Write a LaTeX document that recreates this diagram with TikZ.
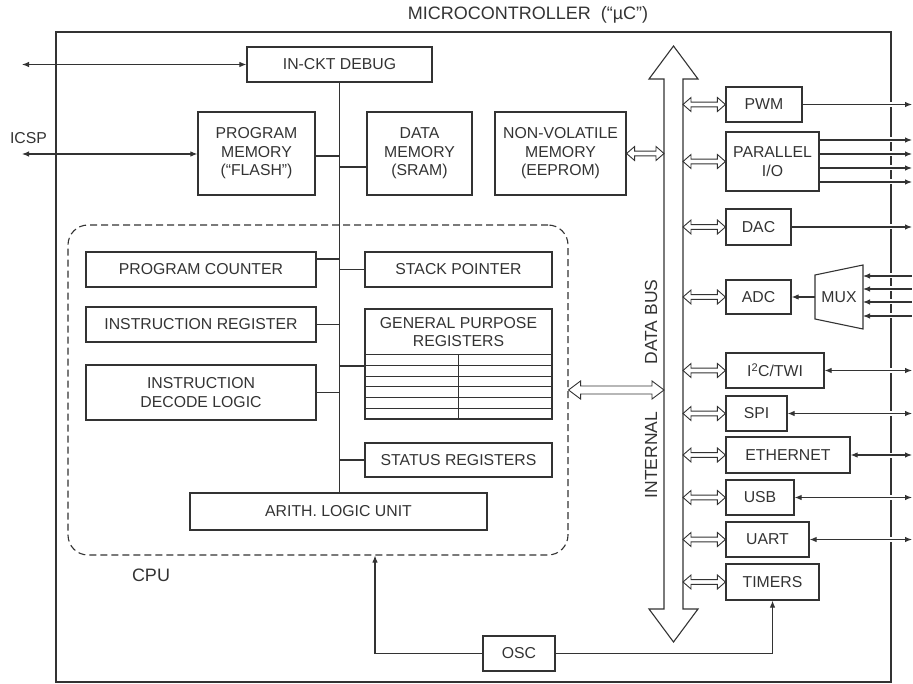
\documentclass[tikz,border=0pt]{standalone}
\usepackage{fontspec}
\setmainfont{Liberation Sans}
\usetikzlibrary{arrows.meta,calc}
\pgfdeclarelayer{bg}
\pgfsetlayers{bg,main}
\definecolor{ink}{gray}{0.2}
\begin{document}
\begin{tikzpicture}[x=1pt,y=-1pt,
  font=\fontsize{15.8}{18.5}\selectfont,
  >={Latex[length=7pt,width=5.5pt]},
  every node/.style={text=ink},
  box/.style={draw=ink, line width=1.2pt, inner sep=0pt, align=center},
  conn/.style={draw=ink, line width=1.1pt},
  extline/.style={conn, preaction={draw=white, line width=5pt, -}},
  hol/.style n args={3}{draw=ink, line width=0.9pt,
    to path={let \p1=(\tikztostart), \p2=(\tikztotarget) in
      (\x1,\y1) -- (\x1+#1,\y1+#2) -- (\x1+#1,\y1+#3) -- (\x2-#1,\y1+#3) -- (\x2-#1,\y1+#2)
      -- (\x2,\y1) -- (\x2-#1,\y1-#2) -- (\x2-#1,\y1-#3) -- (\x1+#1,\y1-#3) -- (\x1+#1,\y1-#2) -- cycle}},
  lbl/.style={font=\fontsize{17.5}{19}\selectfont}]
\useasboundingbox (0,0) rectangle (913,684);

% outer microcontroller box
\begin{pgfonlayer}{bg}
\node[draw=ink, line width=1.2pt, inner sep=0pt, minimum width=835, minimum height=650] (mcu) at (473.5,357) {};
\end{pgfonlayer}
\node[font=\fontsize{18}{19}\selectfont] (title) at (528,15) {MICROCONTROLLER\ \ (“µC”)};

% CPU region
\node[draw=ink, line width=1.1pt, dash pattern=on 7pt off 4pt, rounded corners=20pt,
      minimum width=500, minimum height=330, inner sep=0pt] (cpu) at (318,390) {};
\node[font=\fontsize{18}{19}\selectfont] (cpulbl) at (151,575) {CPU};

% memory and debug blocks
\node[box, minimum width=185, minimum height=35] (dbg) at (339.5,64.5) {IN-CKT DEBUG};
\node[box, minimum width=117, minimum height=83] (pmem) at (256.5,153.5) {PROGRAM\\MEMORY\\(“FLASH”)};
\node[box, minimum width=105, minimum height=83] (dmem) at (419.5,153.5) {DATA\\MEMORY\\(SRAM)};
\node[box, minimum width=131, minimum height=83] (nvm) at (560.5,153.5) {NON-VOLATILE\\MEMORY\\(EEPROM)};
\node (icsp) at (28.5,138) {ICSP};
\coordinate (dbgL) at (22,64.5);
\coordinate (icspL) at (22,154);

% CPU blocks
\node[box, minimum width=230, minimum height=35] (pc) at (201,269.5) {PROGRAM COUNTER};
\node[box, minimum width=230, minimum height=35] (ir) at (201,324.5) {INSTRUCTION REGISTER};
\node[box, minimum width=230, minimum height=55] (idl) at (201,392.5) {INSTRUCTION\\DECODE LOGIC};
\node[box, minimum width=187, minimum height=35] (sp) at (458.5,269.5) {STACK POINTER};
\node[box, minimum width=187, minimum height=110] (gpr) at (458.5,364) {};
\node[align=center] (gprt) at (458.5,332) {GENERAL PURPOSE\\REGISTERS};
\node[box, minimum width=187, minimum height=34] (sr) at (458.5,460) {STATUS REGISTERS};
\node[box, minimum width=297, minimum height=37] (alu) at (338.5,511.5) {ARITH. LOGIC UNIT};
\node[box, minimum width=72, minimum height=35] (osc) at (519,653.5) {OSC};

% register grid
\foreach \yy in {355,365.7,376.3,387,397.7,408.3}
  \draw[conn, line width=1pt] (gpr.west |- 0,\yy) -- (gpr.east |- 0,\yy);
\draw[conn, line width=1pt] (gpr.south) -- (gpr.south |- 0,355);

% internal data bus
\draw[conn, fill=white] (673.5,46) -- (698,79) -- (683,79) -- (683,609) -- (698,609)
  -- (673.5,642) -- (649,609) -- (664,609) -- (664,79) -- (649,79) -- cycle;
\coordinate (busL) at (664,0);
\coordinate (busR) at (683,0);
\node[lbl, rotate=90] (dbus) at (651,322) {DATA BUS};
\node[lbl, rotate=90] (ibus) at (651,455) {INTERNAL};

% peripherals
\node[box, minimum width=76, minimum height=35] (pwm) at (764,104.5) {PWM};
\node[box, minimum width=93, minimum height=59] (pio) at (772.5,161.5) {PARALLEL\\I/O};
\node[box, minimum width=65, minimum height=36] (dac) at (758.5,227) {DAC};
\node[box, minimum width=65, minimum height=34] (adc) at (758.5,297) {ADC};
\node[box, minimum width=98, minimum height=35] (i2c) at (775,370.5) {I\textsuperscript{2}C/TWI};
\node[box, minimum width=61, minimum height=35] (spi) at (756.5,413.5) {SPI};
\node[box, minimum width=124, minimum height=36] (eth) at (788,455) {ETHERNET};
\node[box, minimum width=68, minimum height=35] (usb) at (760,497.5) {USB};
\node[box, minimum width=83, minimum height=35] (uart) at (767.5,539.5) {UART};
\node[box, minimum width=93, minimum height=36] (tim) at (772.5,582) {TIMERS};
\node (mux) at (839,297) {MUX};
\draw[conn] (815,275) -- (863,265) -- (863,329) -- (815,319) -- cycle;
\coordinate (muxL) at (815,297);
\coordinate (muxR) at (863,297);
\coordinate (rx) at (912,0);

% internal connectors
\draw[conn] (dbg.south) -- (dbg.south |- alu.north);
\draw[conn] (pmem.east |- 0,156) -- (dbg.south |- 0,156);
\draw[conn] (dmem.west |- 0,167) -- (dbg.south |- 0,167);
\draw[conn] (pc.east |- 0,259) -- (dbg.south |- 0,259);
\draw[conn] (sp.west) -- (dbg.south |- sp.west);
\draw[conn] (ir.east) -- (dbg.south |- ir.east);
\draw[conn] (gpr.west |- 0,366) -- (dbg.south |- 0,366);
\draw[conn] (idl.east) -- (dbg.south |- idl.east);
\draw[conn] (sr.west) -- (dbg.south |- sr.west);

\draw[conn,<->] (dbgL) -- (dbg.west);
\draw[conn,<->] (icspL) -- (pmem.west |- icspL);

\draw[conn,->] (osc.west) -| ($(cpu.south)+(57,0)$);
\draw[conn,->] (osc.east) -| (tim.south);
\draw[conn,->] (muxL) -- (adc.east);

% hollow bus arrows
\coordinate (nvmB) at (busL |- nvm.east);
\coordinate (cpuB) at (busL |- cpu.east);
\draw[hol={8pt}{7pt}{2.4pt}] (nvm.east) to (nvmB);
\draw[hol={12pt}{9pt}{4pt}] (cpu.east) to (cpuB);
\foreach \n in {pwm,pio,dac,adc,i2c,spi,eth,usb,uart,tim}{
  \coordinate (hs) at (busR |- \n.west);
  \coordinate (he) at (\n.west);
  \draw[hol={8pt}{7pt}{2.4pt}] (hs) to (he);
}

% external lines
\begin{pgfonlayer}{bg}
\draw[extline,->] (pwm.east) -- (rx |- pwm.east);
\foreach \yy in {140,154,168,182}
  \draw[extline,->] (pio.east |- 0,\yy) -- (rx |- 0,\yy);
\draw[extline,->] (dac.east) -- (rx |- dac.east);
\foreach \yy in {276,289,302,316}
  \draw[extline,<-] (muxR |- 0,\yy) -- (rx |- 0,\yy);
\foreach \n in {i2c,spi,eth,usb,uart}
  \draw[extline,<->] (\n.east) -- (rx |- \n.east);
\end{pgfonlayer}
\end{tikzpicture}
\end{document}
